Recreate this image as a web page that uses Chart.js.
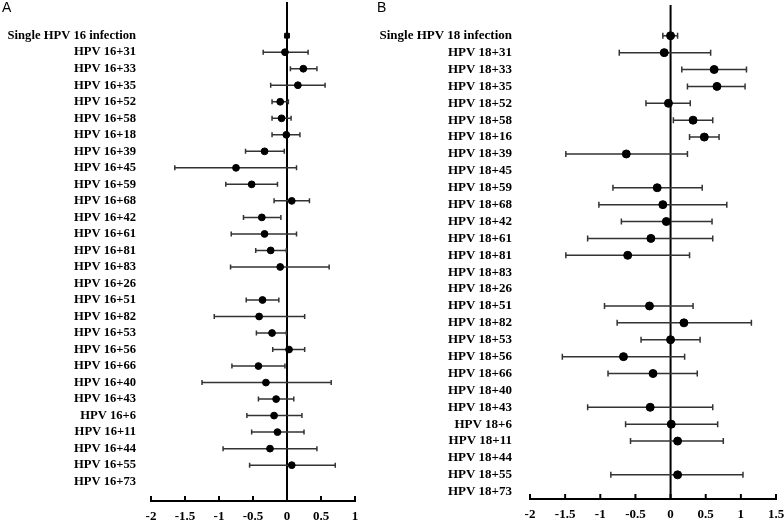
<!DOCTYPE html>
<html>
<head>
<meta charset="utf-8">
<script src="https://cdn.jsdelivr.net/npm/chart.js@4"></script>
<style>
  body { margin: 0; background: #fff; }
  #wrap { position: relative; width: 784px; height: 524px; overflow: hidden; }
  canvas { position: absolute; top: 0; }
  .tag { position: absolute; top: -1px; font: 14px "Liberation Sans", Arial, sans-serif; color: #000; }
</style>
</head>
<body>
<div id="wrap">
  <canvas id="chartA" width="370" height="524" style="left:0"></canvas>
  <canvas id="chartB" width="414" height="524" style="left:370px"></canvas>
  <div class="tag" style="left:2px">A</div>
  <div class="tag" style="left:377px">B</div>
</div>
<script>
// panel A: HPV 16 co-infections
const labelsA = ["Single HPV 16 infection", "HPV 16+31", "HPV 16+33", "HPV 16+35", "HPV 16+52", "HPV 16+58",
  "HPV 16+18", "HPV 16+39", "HPV 16+45", "HPV 16+59", "HPV 16+68", "HPV 16+42", "HPV 16+61", "HPV 16+81",
  "HPV 16+83", "HPV 16+26", "HPV 16+51", "HPV 16+82", "HPV 16+53", "HPV 16+56", "HPV 16+66", "HPV 16+40",
  "HPV 16+43", "HPV 16+6", "HPV 16+11", "HPV 16+44", "HPV 16+55", "HPV 16+73"];
const estA = [0, -0.03, 0.24, 0.16, -0.10, -0.08, -0.01, -0.33, -0.75, -0.52, 0.07, -0.37, -0.33, -0.24,
  -0.10, null, -0.36, -0.41, -0.22, 0.03, -0.42, -0.31, -0.16, -0.19, -0.14, -0.25, 0.07, null];
const lowA = [null, -0.35, 0.05, -0.24, -0.22, -0.22, -0.22, -0.61, -1.65, -0.90, -0.19, -0.64, -0.82, -0.46,
  -0.83, null, -0.60, -1.07, -0.45, -0.21, -0.81, -1.25, -0.42, -0.59, -0.52, -0.94, -0.55, null];
const highA = [null, 0.31, 0.44, 0.56, 0.02, 0.06, 0.19, -0.04, 0.14, -0.14, 0.33, -0.09, 0.14, -0.01,
  0.62, null, -0.12, 0.26, -0.01, 0.26, -0.03, 0.65, 0.10, 0.22, 0.25, 0.44, 0.71, null];
const xTicksA = [-2, -1.5, -1, -0.5, 0, 0.5, 1];

// panel B: HPV 18 co-infections
const labelsB = ["Single HPV 18 infection", "HPV 18+31", "HPV 18+33", "HPV 18+35", "HPV 18+52", "HPV 18+58",
  "HPV 18+16", "HPV 18+39", "HPV 18+45", "HPV 18+59", "HPV 18+68", "HPV 18+42", "HPV 18+61", "HPV 18+81",
  "HPV 18+83", "HPV 18+26", "HPV 18+51", "HPV 18+82", "HPV 18+53", "HPV 18+56", "HPV 18+66", "HPV 18+40",
  "HPV 18+43", "HPV 18+6", "HPV 18+11", "HPV 18+44", "HPV 18+55", "HPV 18+73"];
const estB = [0, -0.09, 0.62, 0.66, -0.03, 0.32, 0.48, -0.63, null, -0.19, -0.11, -0.06, -0.28, -0.61,
  null, null, -0.30, 0.19, 0.0, -0.67, -0.25, null, -0.29, 0.01, 0.10, null, 0.10, null];
const lowB = [-0.11, -0.73, 0.16, 0.24, -0.35, 0.04, 0.27, -1.49, null, -0.82, -1.02, -0.70, -1.18, -1.49,
  null, null, -0.94, -0.76, -0.42, -1.54, -0.89, null, -1.18, -0.64, -0.57, null, -0.85, null];
const highB = [0.10, 0.57, 1.08, 1.06, 0.28, 0.60, 0.69, 0.24, null, 0.45, 0.80, 0.59, 0.60, 0.27,
  null, null, 0.32, 1.15, 0.42, 0.20, 0.38, null, 0.60, 0.67, 0.75, null, 1.03, null];
const xTicksB = [-2, -1.5, -1, -0.5, 0, 0.5, 1, 1.5];

// draws CI whiskers, the zero line and inward x ticks
const forestPlugin = {
  id: "forest",
  beforeDatasetsDraw(chart, args, opts) {
    const { ctx, chartArea } = chart;
    const xs = chart.scales.x, ys = chart.scales.y;
    ctx.save();
    // zero line
    const x0 = xs.getPixelForValue(0);
    ctx.strokeStyle = "#000";
    ctx.lineWidth = 2;
    ctx.beginPath();
    ctx.moveTo(x0, chartArea.top);
    ctx.lineTo(x0, chartArea.bottom);
    ctx.stroke();
    // whiskers
    ctx.strokeStyle = "#333";
    ctx.lineWidth = 1.5;
    opts.low.forEach((lo, i) => {
      const hi = opts.high[i];
      if (lo == null || hi == null) return;
      const y = ys.getPixelForValue(i);
      const a = xs.getPixelForValue(lo), b = xs.getPixelForValue(hi);
      ctx.beginPath();
      ctx.moveTo(a, y); ctx.lineTo(b, y);
      ctx.moveTo(a, y - opts.cap); ctx.lineTo(a, y + opts.cap);
      ctx.moveTo(b, y - opts.cap); ctx.lineTo(b, y + opts.cap);
      ctx.stroke();
    });
    ctx.restore();
  },
  afterDraw(chart) {
    const { ctx, chartArea } = chart;
    const xs = chart.scales.x;
    ctx.save();
    ctx.strokeStyle = "#000";
    ctx.lineWidth = 2;
    xs.ticks.forEach(t => {
      const x = xs.getPixelForValue(t.value);
      ctx.beginPath();
      ctx.moveTo(x, chartArea.bottom);
      ctx.lineTo(x, chartArea.bottom - 5);
      ctx.stroke();
    });
    ctx.restore();
  }
};

function makeForest(id, p) {
  const pts = [];
  p.est.forEach((v, i) => { if (v != null) pts.push({ x: v, y: i }); });
  return new Chart(document.getElementById(id), {
    type: "scatter",
    data: {
      datasets: [{
        data: pts,
        backgroundColor: "#000",
        borderColor: "#000",
        pointRadius: p.radius,
        pointStyle: ctx => (p.squareFirst && ctx.raw && ctx.raw.y === 0) ? "rect" : "circle"
      }]
    },
    options: {
      responsive: false,
      devicePixelRatio: 1,
      animation: false,
      layout: { autoPadding: false, padding: { top: p.top, right: p.right, left: 0, bottom: 0 } },
      plugins: {
        legend: { display: false },
        tooltip: { enabled: false },
        forest: { low: p.low, high: p.high, cap: p.cap }
      },
      scales: {
        x: {
          type: "linear",
          min: p.xTicks[0],
          max: p.xTicks[p.xTicks.length - 1],
          afterBuildTicks: s => { s.ticks = p.xTicks.map(v => ({ value: v })); },
          afterFit: s => { s.height = p.xHeight; s.paddingLeft = 0; s.paddingRight = 0; },
          grid: { display: false, drawTicks: false },
          border: { display: true, color: "#000", width: 2 },
          ticks: {
            color: "#000",
            padding: 8,
            font: { family: "'Liberation Serif', 'Times New Roman', serif", size: 13, weight: "bold" },
            callback: v => String(v)
          }
        },
        y: {
          type: "linear",
          reverse: true,
          min: p.yMin,
          max: p.yMax,
          afterBuildTicks: s => { s.ticks = p.labels.map((_, i) => ({ value: i })); },
          afterFit: s => { s.width = p.yWidth; s.paddingTop = 0; s.paddingBottom = 0; },
          grid: { display: false, drawTicks: false },
          border: { display: false },
          ticks: {
            color: "#000",
            padding: p.labelPad,
            autoSkip: false,
            font: { family: "'Liberation Serif', 'Times New Roman', serif", size: p.fontSize, weight: "bold" },
            callback: v => p.labels[v]
          }
        }
      }
    },
    plugins: [forestPlugin]
  });
}

makeForest("chartA", {
  labels: labelsA, est: estA, low: lowA, high: highA, xTicks: xTicksA,
  yMin: -2.04, yMax: 28.17, top: 2, right: 15, yWidth: 151, xHeight: 23,
  labelPad: 15, fontSize: 12.6, radius: 3.4, cap: 2.5, squareFirst: true
});
makeForest("chartB", {
  labels: labelsB, est: estB, low: lowB, high: highB, xTicks: xTicksB,
  yMin: -1.82, yMax: 27.43, top: 5, right: 8, yWidth: 160, xHeight: 25,
  labelPad: 18, fontSize: 13, radius: 4, cap: 3, squareFirst: false
});
</script>
</body>
</html>
